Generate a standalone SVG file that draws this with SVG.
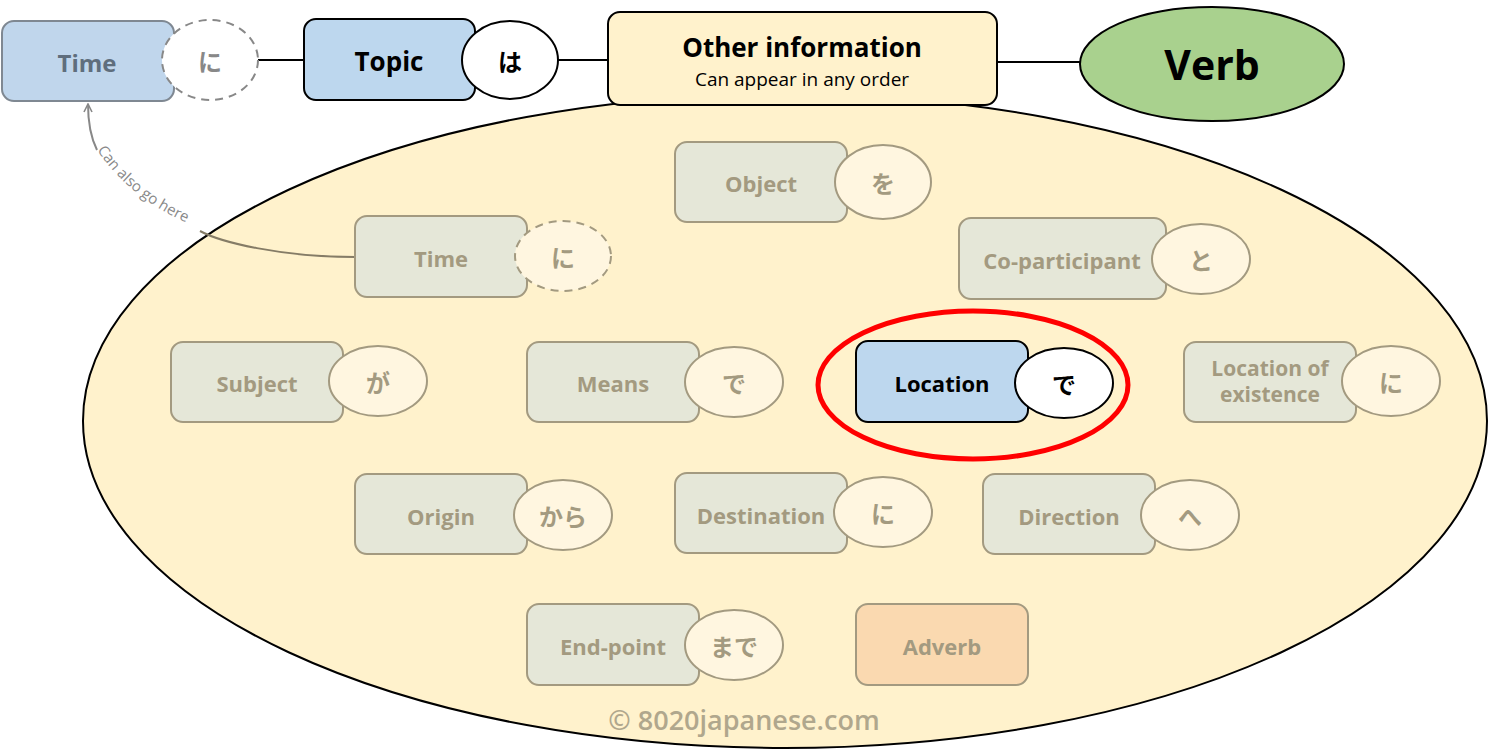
<svg xmlns="http://www.w3.org/2000/svg" width="1488" height="751" viewBox="0 0 1488 751">
<defs>
<style>
.lbl{font-family:"Open Sans","Noto Sans",sans-serif;font-weight:bold;text-anchor:middle;dominant-baseline:central}
.jp{font-family:"Noto Sans CJK JP","Noto Sans",sans-serif;font-weight:bold;text-anchor:middle;dominant-baseline:central}
.ibox{fill:#e5e7d8;stroke:#a39a80;stroke-width:2}
.ipart{fill:#fff6e0;stroke:#a39a80;stroke-width:2}
.itxt{fill:#a39a80;font-size:22px}
.ijp{fill:#a39a80;font-size:24px}
.dash{stroke-dasharray:8 6}
.conn{fill:none;stroke:#000;stroke-width:2}
</style>
<marker id="arr" viewBox="0 0 10 10" refX="9" refY="5" markerWidth="10" markerHeight="10" markerUnits="userSpaceOnUse" orient="auto">
<path d="M1,1 L9,5 L1,9" fill="none" stroke="#888" stroke-width="1.6"/>
</marker>
<path id="tp" d="M97,150 C 118,182 155,212 200,228"/>
</defs>

<g id="region">
<ellipse cx="785" cy="421" rx="702" ry="327" fill="#fff2cc" stroke="#000" stroke-width="2"/>
</g>

<g id="connectors">
<line class="conn" x1="258" y1="60" x2="304" y2="60"/>
<line class="conn" x1="558" y1="60" x2="608" y2="60"/>
<line class="conn" x1="997" y1="62" x2="1080" y2="62"/>
<path d="M355,257 C 280,257 220,242 200,231" fill="none" stroke="#857c66" stroke-width="2"/>
<path d="M97,150 C 92,140 88,125 88,104" fill="none" stroke="#888" stroke-width="2" marker-end="url(#arr)"/>
<text font-family="'Open Sans','Noto Sans',sans-serif" font-size="15" fill="#888"><textPath href="#tp">Can also go here</textPath></text>
</g>

<g id="top-time">
<rect x="2" y="21" width="172" height="80" rx="12" fill="#c0d6ec" stroke="#7f8892" stroke-width="2"/>
<text class="lbl" x="87" y="62" font-size="24" fill="#5f6e7d">Time</text>
<ellipse class="dash" cx="210" cy="60" rx="48" ry="40" fill="#fff" stroke="#888" stroke-width="2"/>
<text class="jp" x="210" y="60" font-size="24" fill="#888">に</text>
</g>

<g id="topic">
<rect x="304" y="19" width="171" height="81" rx="12" fill="#bdd7ee" stroke="#000" stroke-width="2"/>
<text class="lbl" x="389" y="61" font-size="26" fill="#000">Topic</text>
<ellipse cx="510" cy="60" rx="48" ry="39" fill="#fff" stroke="#000" stroke-width="2"/>
<text class="jp" x="510" y="60" font-size="24" fill="#000">は</text>
</g>

<g id="other">
<rect x="608" y="12" width="389" height="93" rx="12" fill="#fff2cc" stroke="#000" stroke-width="2"/>
<text class="lbl" x="802" y="47" font-size="26" fill="#000">Other information</text>
<text x="802" y="86" font-family="'Open Sans','Noto Sans',sans-serif" font-size="19" fill="#000" text-anchor="middle">Can appear in any order</text>
</g>

<g id="verb">
<ellipse cx="1212" cy="64" rx="132" ry="57" fill="#a9d18e" stroke="#000" stroke-width="2"/>
<text class="lbl" x="1212" y="64" font-size="41" fill="#000">Verb</text>
</g>

<g id="object">
<rect class="ibox" x="675" y="142" width="172" height="80" rx="12"/>
<text class="lbl itxt" x="761" y="183">Object</text>
<ellipse class="ipart" cx="883" cy="182" rx="48" ry="37"/>
<text class="jp ijp" x="883" y="182">を</text>
</g>

<g id="time">
<rect class="ibox" x="355" y="216" width="172" height="81" rx="12"/>
<text class="lbl itxt" x="441" y="258">Time</text>
<ellipse class="ipart dash" cx="563" cy="256" rx="48" ry="35"/>
<text class="jp ijp" x="563" y="256">に</text>
</g>

<g id="coparticipant">
<rect class="ibox" x="959" y="218" width="207" height="81" rx="12"/>
<text class="lbl itxt" x="1062" y="260">Co-participant</text>
<ellipse class="ipart" cx="1201" cy="259" rx="49" ry="35"/>
<text class="jp ijp" x="1201" y="259">と</text>
</g>

<g id="subject">
<rect class="ibox" x="171" y="342" width="172" height="80" rx="12"/>
<text class="lbl itxt" x="257" y="383">Subject</text>
<ellipse class="ipart" cx="378" cy="381" rx="49" ry="35"/>
<text class="jp ijp" x="378" y="381">が</text>
</g>

<g id="means">
<rect class="ibox" x="527" y="342" width="172" height="80" rx="12"/>
<text class="lbl itxt" x="613" y="383">Means</text>
<ellipse class="ipart" cx="734" cy="382" rx="49" ry="35"/>
<text class="jp ijp" x="734" y="382">で</text>
</g>

<g id="location">
<rect x="856" y="341" width="172" height="81" rx="12" fill="#bdd7ee" stroke="#000" stroke-width="2"/>
<text class="lbl" x="942" y="383" font-size="22" fill="#000">Location</text>
<ellipse cx="1064" cy="383" rx="49" ry="35" fill="#fff" stroke="#000" stroke-width="2"/>
<text class="jp" x="1064" y="383" font-size="24" fill="#000">で</text>
<ellipse cx="973" cy="385" rx="155" ry="74" fill="none" stroke="#ff0000" stroke-width="5"/>
</g>

<g id="existence">
<rect class="ibox" x="1184" y="342" width="172" height="80" rx="12"/>
<text class="lbl" x="1270" y="368" font-size="21" fill="#a39a80">Location of</text>
<text class="lbl" x="1270" y="394" font-size="21" fill="#a39a80">existence</text>
<ellipse class="ipart" cx="1391" cy="381" rx="49" ry="35"/>
<text class="jp ijp" x="1391" y="381">に</text>
</g>

<g id="origin">
<rect class="ibox" x="355" y="474" width="172" height="80" rx="12"/>
<text class="lbl itxt" x="441" y="516">Origin</text>
<ellipse class="ipart" cx="563" cy="515" rx="49" ry="35"/>
<text class="jp ijp" x="563" y="515">から</text>
</g>

<g id="destination">
<rect class="ibox" x="675" y="473" width="172" height="80" rx="12"/>
<text class="lbl itxt" x="761" y="515">Destination</text>
<ellipse class="ipart" cx="883" cy="512" rx="49" ry="35"/>
<text class="jp ijp" x="883" y="512">に</text>
</g>

<g id="direction">
<rect class="ibox" x="983" y="474" width="172" height="80" rx="12"/>
<text class="lbl itxt" x="1069" y="516">Direction</text>
<ellipse class="ipart" cx="1190" cy="515" rx="49" ry="35"/>
<text class="jp ijp" x="1190" y="515">へ</text>
</g>

<g id="endpoint">
<rect class="ibox" x="527" y="604" width="172" height="81" rx="12"/>
<text class="lbl itxt" x="613" y="646">End-point</text>
<ellipse class="ipart" cx="734" cy="645" rx="49" ry="35"/>
<text class="jp ijp" x="734" y="645">まで</text>
</g>

<g id="adverb">
<rect x="856" y="604" width="172" height="81" rx="12" fill="#fad9b0" stroke="#a39a80" stroke-width="2"/>
<text class="lbl itxt" x="942" y="646">Adverb</text>
</g>

<text x="744" y="730" font-family="'Open Sans','Noto Sans',sans-serif" font-size="27" font-weight="600" fill="#b0a78d" text-anchor="middle">© 8020japanese.com</text>
</svg>
